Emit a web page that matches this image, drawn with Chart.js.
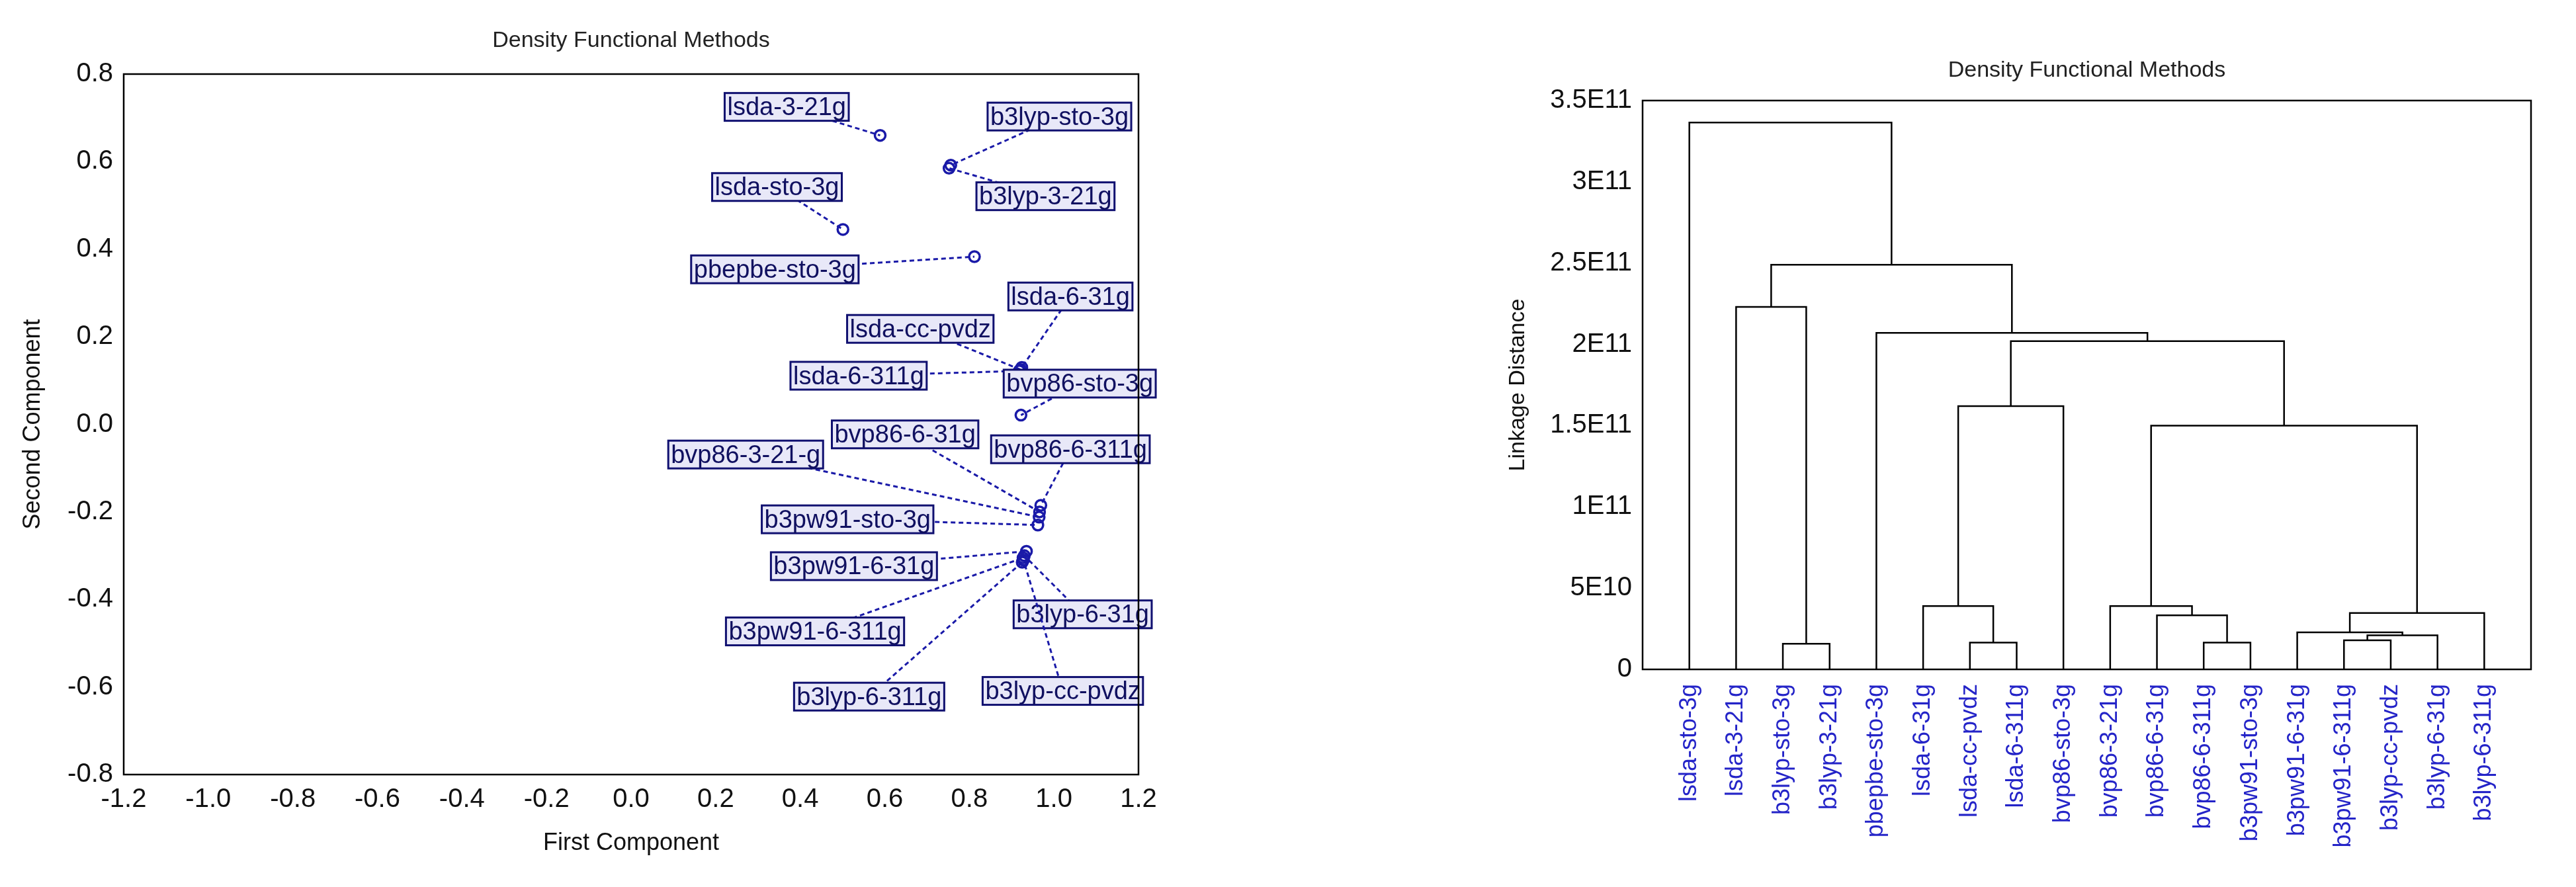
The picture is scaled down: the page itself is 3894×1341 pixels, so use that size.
<!DOCTYPE html>
<html>
<head>
<meta charset="utf-8">
<script src="https://cdn.jsdelivr.net/npm/chart.js@4.4.1/dist/chart.umd.min.js"></script>
<style>
  body { margin: 0; background: #fff; width: 3894px; height: 1341px; overflow: hidden; position: relative; }
  .box { position: absolute; top: 0; }
</style>
</head>
<body>
<div class="box" style="left:0;width:1800px;height:1341px"><canvas id="pca"></canvas></div>
<div class="box" style="left:2200px;width:1694px;height:1341px"><canvas id="tree"></canvas></div>
<script>
// PCA scores
var methods = ['lsda-3-21g', 'b3lyp-sto-3g', 'b3lyp-3-21g', 'lsda-sto-3g', 'pbepbe-sto-3g',
  'lsda-6-31g', 'lsda-cc-pvdz', 'lsda-6-311g', 'bvp86-sto-3g', 'bvp86-6-31g', 'bvp86-6-311g',
  'bvp86-3-21-g', 'b3pw91-sto-3g', 'b3pw91-6-31g', 'b3lyp-6-31g', 'b3pw91-6-311g',
  'b3lyp-6-311g', 'b3lyp-cc-pvdz'];
var firstComp = [0.589, 0.756, 0.752, 0.501, 0.812, 0.924, 0.921, 0.918, 0.922, 0.966, 0.969,
  0.965, 0.962, 0.935, 0.930, 0.927, 0.925, 0.928];
var secondComp = [0.660, 0.592, 0.585, 0.445, 0.383, 0.130, 0.125, 0.122, 0.021, -0.200, -0.185,
  -0.212, -0.230, -0.290, -0.300, -0.305, -0.315, -0.310];
// where each label box sits (data units)
var labelX = [0.368, 1.013, 0.980, 0.345, 0.340, 1.039, 0.684, 0.538, 1.061, 0.648, 1.039,
  0.271, 0.512, 0.527, 1.068, 0.435, 0.563, 1.021];
var labelY = [0.725, 0.703, 0.521, 0.542, 0.354, 0.292, 0.218, 0.111, 0.093, -0.023, -0.057,
  -0.069, -0.217, -0.324, -0.434, -0.473, -0.622, -0.609];

// Dendrogram
var leaves = ['lsda-sto-3g', 'lsda-3-21g', 'b3lyp-sto-3g', 'b3lyp-3-21g', 'pbepbe-sto-3g',
  'lsda-6-31g', 'lsda-cc-pvdz', 'lsda-6-311g', 'bvp86-sto-3g', 'bvp86-3-21g', 'bvp86-6-31g',
  'bvp86-6-311g', 'b3pw91-sto-3g', 'b3pw91-6-31g', 'b3pw91-6-311g', 'b3lyp-cc-pvdz',
  'b3lyp-6-31g', 'b3lyp-6-311g'];
// node ids: 0-17 leaves, 18+ merges in order
var mergeA = [2, 1, 6, 5, 21, 11, 10, 9, 14, 26, 13, 28, 25, 22, 4, 19, 0];
var mergeB = [3, 18, 7, 20, 8, 12, 23, 24, 15, 16, 27, 17, 29, 30, 31, 32, 33];
var mergeHeight = [1.58e10, 2.23e11, 1.65e10, 3.9e10, 1.62e11, 1.65e10, 3.33e10, 3.9e10,
  1.79e10, 2.1e10, 2.28e10, 3.47e10, 1.5e11, 2.02e11, 2.07e11, 2.49e11, 3.365e11];
var yTickLabels = ['0', '5E10', '1E11', '1.5E11', '2E11', '2.5E11', '3E11', '3.5E11'];

var font = 'Liberation Sans';
var blue = '#1a1aa8';

function titlePlugin(text, y) {
  return {
    id: 'topTitle',
    afterDraw: function(chart) {
      var c = chart.ctx, a = chart.chartArea;
      c.save();
      c.font = '34px ' + font;
      c.fillStyle = '#222';
      c.textAlign = 'center';
      c.textBaseline = 'middle';
      c.fillText(text, (a.left + a.right) / 2, y);
      c.restore();
    }
  };
}

function framePlugin() {
  return {
    id: 'frame',
    afterDraw: function(chart) {
      var c = chart.ctx, a = chart.chartArea;
      c.save();
      c.strokeStyle = '#000';
      c.lineWidth = 2.5;
      c.strokeRect(a.left, a.top, a.right - a.left, a.bottom - a.top);
      c.restore();
    }
  };
}

var labelPlugin = {
  id: 'pointLabels',
  afterDatasetsDraw: function(chart) {
    var c = chart.ctx, xs = chart.scales.x, ys = chart.scales.y;
    c.save();
    c.font = '38px ' + font;
    c.textAlign = 'center';
    c.textBaseline = 'middle';
    for (var i = 0; i < methods.length; i++) {
      var px = xs.getPixelForValue(firstComp[i]), py = ys.getPixelForValue(secondComp[i]);
      var lx = xs.getPixelForValue(labelX[i]), ly = ys.getPixelForValue(labelY[i]);
      c.strokeStyle = blue;
      c.lineWidth = 3;
      c.setLineDash([7, 5]);
      c.beginPath(); c.moveTo(lx, ly); c.lineTo(px, py); c.stroke();
      c.setLineDash([]);
      var w = c.measureText(methods[i]).width + 8, h = 42;
      c.fillStyle = '#e8e8f8';
      c.fillRect(lx - w / 2, ly - h / 2, w, h);
      c.strokeStyle = '#101070';
      c.lineWidth = 3;
      c.strokeRect(lx - w / 2, ly - h / 2, w, h);
      c.fillStyle = '#101060';
      c.fillText(methods[i], lx, ly + 2);
    }
    c.restore();
  }
};

var scatterPts = firstComp.map(function(v, i) { return { x: v, y: secondComp[i] }; });

new Chart(document.getElementById('pca'), {
  type: 'scatter',
  data: { datasets: [{ data: scatterPts, pointRadius: 8, pointBorderWidth: 3.5,
    pointBorderColor: blue, pointBackgroundColor: 'rgba(0,0,0,0)' }] },
  options: {
    responsive: true, maintainAspectRatio: false, animation: false,
    layout: { padding: { top: 112, right: 79, left: 24, bottom: 40 } },
    plugins: { legend: { display: false }, tooltip: { enabled: false }, title: { display: false } },
    scales: {
      x: { min: -1.2, max: 1.2,
        ticks: { stepSize: 0.2, color: '#111', padding: 6, font: { family: font, size: 40 },
          callback: function(v) { return v.toFixed(1); } },
        grid: { display: false, drawTicks: true }, border: { color: '#000', width: 2 },
        title: { display: true, text: 'First Component', color: '#111', padding: { top: 6 },
          font: { family: font, size: 36 } },
        afterFit: function(s) { s.height = 130; } },
      y: { min: -0.8, max: 0.8,
        ticks: { stepSize: 0.2, color: '#111', padding: 8, font: { family: font, size: 40 },
          callback: function(v) { return v.toFixed(1); } },
        grid: { display: false }, border: { color: '#000', width: 2 },
        title: { display: true, text: 'Second Component', color: '#111', padding: { bottom: 0 },
          font: { family: font, size: 36 } },
        afterFit: function(s) { s.width = 163; } }
    }
  },
  plugins: [labelPlugin, framePlugin(), titlePlugin('Density Functional Methods', 62)]
});

// build dendrogram links from the merge table
var nodeX = leaves.map(function(l, i) { return i; });
var nodeH = leaves.map(function() { return 0; });
var linkSets = [];
for (var m = 0; m < mergeA.length; m++) {
  var a = mergeA[m], b = mergeB[m], h = mergeHeight[m];
  linkSets.push({
    data: [{ x: nodeX[a], y: nodeH[a] }, { x: nodeX[a], y: h }, { x: nodeX[b], y: h }, { x: nodeX[b], y: nodeH[b] }],
    showLine: true, borderColor: '#000', borderWidth: 2.5, pointRadius: 0, tension: 0
  });
  nodeX.push((nodeX[a] + nodeX[b]) / 2);
  nodeH.push(h);
}

new Chart(document.getElementById('tree'), {
  type: 'scatter',
  data: { datasets: linkSets },
  options: {
    responsive: true, maintainAspectRatio: false, animation: false,
    layout: { padding: { top: 152, right: 68, left: 70, bottom: 0 } },
    plugins: { legend: { display: false }, tooltip: { enabled: false }, title: { display: false } },
    scales: {
      x: { min: -1, max: 18,
        ticks: { stepSize: 1, autoSkip: false, maxRotation: 90, minRotation: 90, color: '#2424c8',
          padding: 14, font: { family: font, size: 36 },
          callback: function(v) { return leaves[v] || ''; } },
        grid: { display: false }, border: { color: '#000', width: 2 },
        afterFit: function(s) { s.height = 329; } },
      y: { min: 0, max: 3.5e11,
        ticks: { stepSize: 5e10, color: '#111', padding: 8, font: { family: font, size: 40 },
          callback: function(v) { return yTickLabels[Math.round(v / 5e10)]; } },
        grid: { display: false }, border: { color: '#000', width: 2 },
        title: { display: true, text: 'Linkage Distance', color: '#111', padding: { bottom: 14 },
          font: { family: font, size: 34 } },
        afterFit: function(s) { s.width = 213; } }
    }
  },
  plugins: [framePlugin(), titlePlugin('Density Functional Methods', 107)]
});
</script>
</body>
</html>
